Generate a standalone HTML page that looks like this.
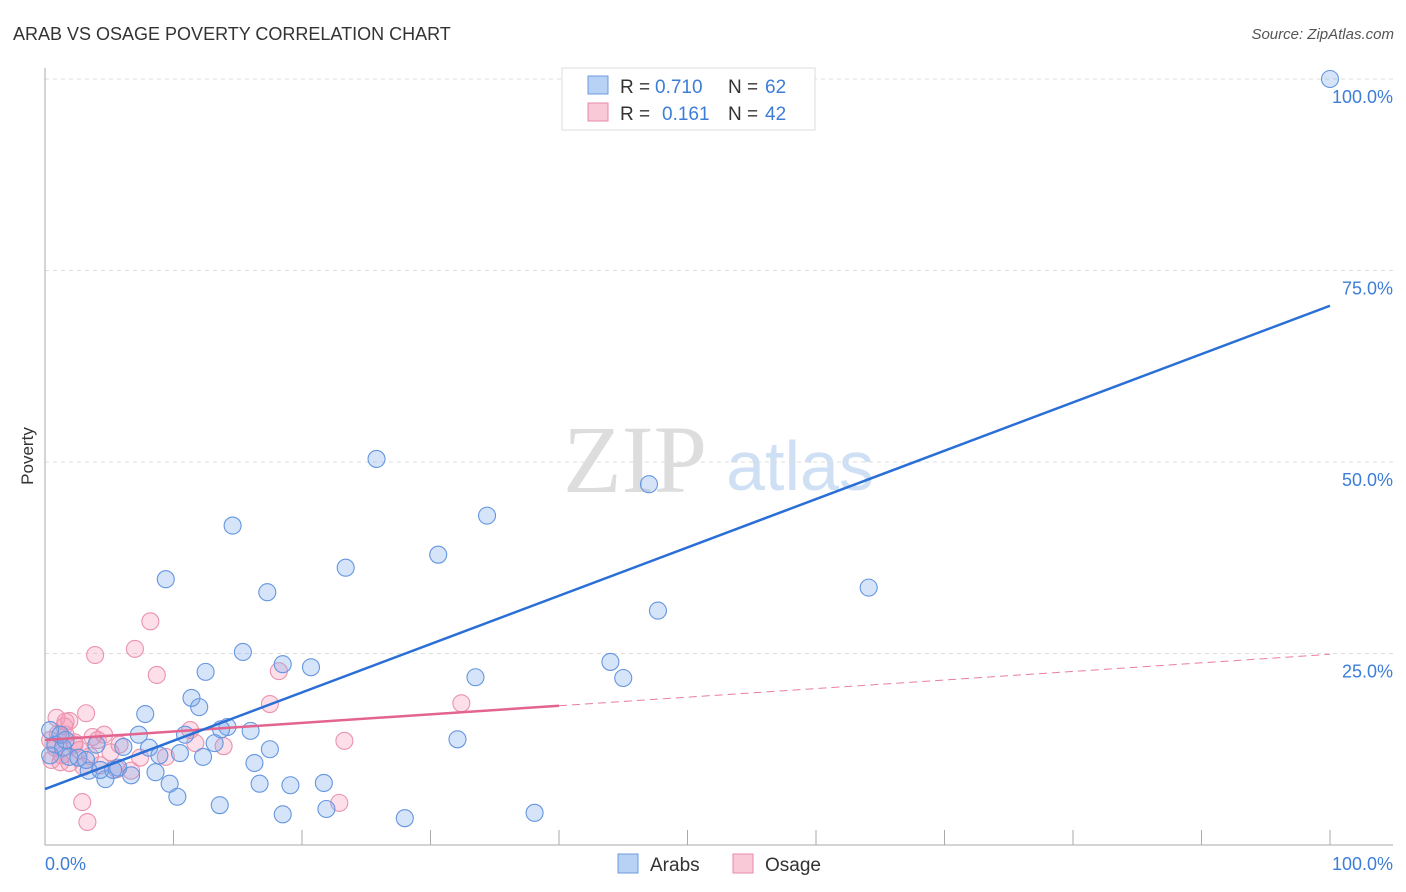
<!DOCTYPE html>
<html><head><meta charset="utf-8"><style>
body{margin:0;background:#fff;font-family:"Liberation Sans",sans-serif;}
svg{display:block}
</style></head><body>
<svg id="c" width="1406" height="892" xmlns="http://www.w3.org/2000/svg">
<text x="13" y="40" font-size="18" fill="#333">ARAB VS OSAGE POVERTY CORRELATION CHART</text>
<text x="1394" y="39" font-size="15" fill="#555" font-style="italic" text-anchor="end">Source: ZipAtlas.com</text>
<text transform="translate(33,456) rotate(-90)" font-size="17" fill="#333" text-anchor="middle">Poverty</text>
<text x="635" y="492" font-size="96" fill="#ddd" font-family="Liberation Serif,serif" text-anchor="middle">ZIP</text>
<text x="800" y="490" font-size="70" fill="#cfe0f5" text-anchor="middle">atlas</text>
<g id="grid"></g><g id="marks"></g>
<g font-size="19">
<rect x="562" y="68" width="253" height="62" fill="#fff" stroke="#ddd"/>
<rect x="588" y="76" width="20" height="18" fill="#b7d2f5" stroke="#6c9be0"/>
<text x="620" y="93" fill="#333">R =</text>
<text x="655" y="93" fill="#3d7dd8">0.710</text>
<text x="728" y="93" fill="#333">N =</text>
<text x="765" y="93" fill="#3d7dd8">62</text>
<rect x="588" y="103" width="20" height="18" fill="#f9c9d7" stroke="#e88aa8"/>
<text x="620" y="120" fill="#333">R =</text>
<text x="662" y="120" fill="#3d7dd8">0.161</text>
<text x="728" y="120" fill="#333">N =</text>
<text x="765" y="120" fill="#3d7dd8">42</text>
</g>
<g>
<rect x="618" y="854" width="20" height="19" fill="#b7d2f5" stroke="#6c9be0"/>
<text x="650" y="871" font-size="19" fill="#333">Arabs</text>
<rect x="733" y="854" width="20" height="19" fill="#f9c9d7" stroke="#e88aa8"/>
<text x="765" y="871" font-size="19" fill="#333">Osage</text>
</g>
</svg>
<script>
const yTicks=[25,50,75,100];
const yTickLabels=["25.0%","50.0%","75.0%","100.0%"];
const xTicks=[0,10,20,30,40,50,60,70,80,90,100];
const arabX=[100,25.8,47.0,14.6,34.4,30.6,23.4,9.4,17.3,47.7,64.1,15.4,44.0,45.0,18.5,20.7,12.5,33.5,11.4,12.0,7.8,14.2,16.0,13.7,10.9,7.3,32.1,13.2,17.5,8.1,10.5,8.9,12.3,4.0,6.1,16.3,5.7,8.6,9.7,16.7,19.1,21.7,6.7,3.4,4.7,10.3,13.6,18.5,21.9,28.0,38.1,0.4,0.8,1.4,1.9,2.6,1.2,3.2,0.4,5.3,4.3,1.6];
const arabY=[100,50.4,47.1,41.7,43.0,37.9,36.2,34.7,33.0,30.6,33.6,25.2,23.9,21.8,23.6,23.2,22.6,21.9,19.2,18.0,17.1,15.4,14.9,15.1,14.4,14.4,13.8,13.3,12.5,12.7,12.0,11.7,11.5,13.1,12.8,10.7,10.1,9.5,8.0,8.0,7.8,8.1,9.1,9.7,8.6,6.3,5.2,4.0,4.7,3.5,4.2,15.0,13.1,12.7,11.5,11.4,14.4,11.1,11.7,9.8,9.8,13.7];
const osageX=[8.2,3.9,7.0,8.7,18.2,17.5,32.4,3.2,1.9,1.5,1.0,4.6,4.1,11.3,11.7,13.9,23.3,2.3,2.7,5.1,9.4,3.5,1.2,1.9,3.0,5.6,6.7,2.9,3.3,22.9,0.4,0.8,1.3,2.3,0.5,1.6,0.9,1.6,5.8,4.3,7.4,3.7];
const osageY=[29.2,24.8,25.6,22.2,22.7,18.4,18.5,17.2,16.2,15.5,14.5,14.4,13.7,15.0,13.3,12.9,13.6,13.1,12.4,12.1,11.5,11.6,10.8,10.7,10.2,9.9,9.7,5.6,3.0,5.5,13.7,12.7,11.7,13.4,11.1,14.4,16.6,16.1,13.1,10.4,11.4,14.1];
const arabTrend=[7.3,70.4];
const osageTrend=[13.7,24.9];
const osageSolidEnd=40;
const X=v=>45+v*12.85, Y=v=>845-v*7.66;
const NS="http://www.w3.org/2000/svg";
const g=document.getElementById('grid'), m=document.getElementById('marks');
function mk(p,tag,at){const e=document.createElementNS(NS,tag);for(const k in at)e.setAttribute(k,at[k]);p.appendChild(e);return e;}
yTicks.forEach((t,i)=>{
 const l=mk(g,'line',{x1:45,x2:1393,y1:Y(t),y2:Y(t),stroke:'#ddd','stroke-dasharray':'4,4'});
 
 
 const tx=mk(g,'text',{x:1393,y:Y(t)+24,'font-size':18,fill:'#3d7dd8','text-anchor':'end'});tx.textContent=yTickLabels[i];
 
 
});
const ya=mk(g,'line',{x1:45,x2:45,y1:68,y2:845,stroke:'#aaa'});


const xa=mk(g,'line',{x1:45,x2:1393,y1:845,y2:845,stroke:'#aaa'});


xTicks.forEach(t=>{const l=mk(g,'line',{x1:X(t),x2:X(t),y1:830,y2:845,stroke:'#aaa'});
 
 });
const t0=mk(g,'text',{x:45,y:870,'font-size':18,fill:'#3d7dd8'});t0.textContent='0.0%';


const t1=mk(g,'text',{x:1393,y:870,'font-size':18,fill:'#3d7dd8','text-anchor':'end'});t1.textContent='100.0%';


osageX.forEach((x,i)=>{const c=mk(m,'circle',{cx:X(x),cy:Y(osageY[i]),r:8.5,fill:'rgba(244,150,180,0.3)',stroke:'#eb93ae','stroke-width':1.1});
 
 });
arabX.forEach((x,i)=>{const c=mk(m,'circle',{cx:X(x),cy:Y(arabY[i]),r:8.5,fill:'rgba(120,165,235,0.3)',stroke:'#6496e0','stroke-width':1.1});
 
 });
const oy=x=>osageTrend[0]+(osageTrend[1]-osageTrend[0])*x/100;
const od=mk(m,'line',{x1:X(osageSolidEnd),y1:Y(oy(osageSolidEnd)),x2:X(100),y2:Y(oy(100)),stroke:'#e87ea0','stroke-width':1,'stroke-dasharray':'8,5'});


const os=mk(m,'line',{x1:X(0),y1:Y(oy(0)),x2:X(osageSolidEnd),y2:Y(oy(osageSolidEnd)),stroke:'#e3648e','stroke-width':2.5});


const at=mk(m,'line',{x1:X(0),y1:Y(arabTrend[0]),x2:X(100),y2:Y(arabTrend[1]),stroke:'#2a6fd6','stroke-width':2.5});


</script>
</body></html>
